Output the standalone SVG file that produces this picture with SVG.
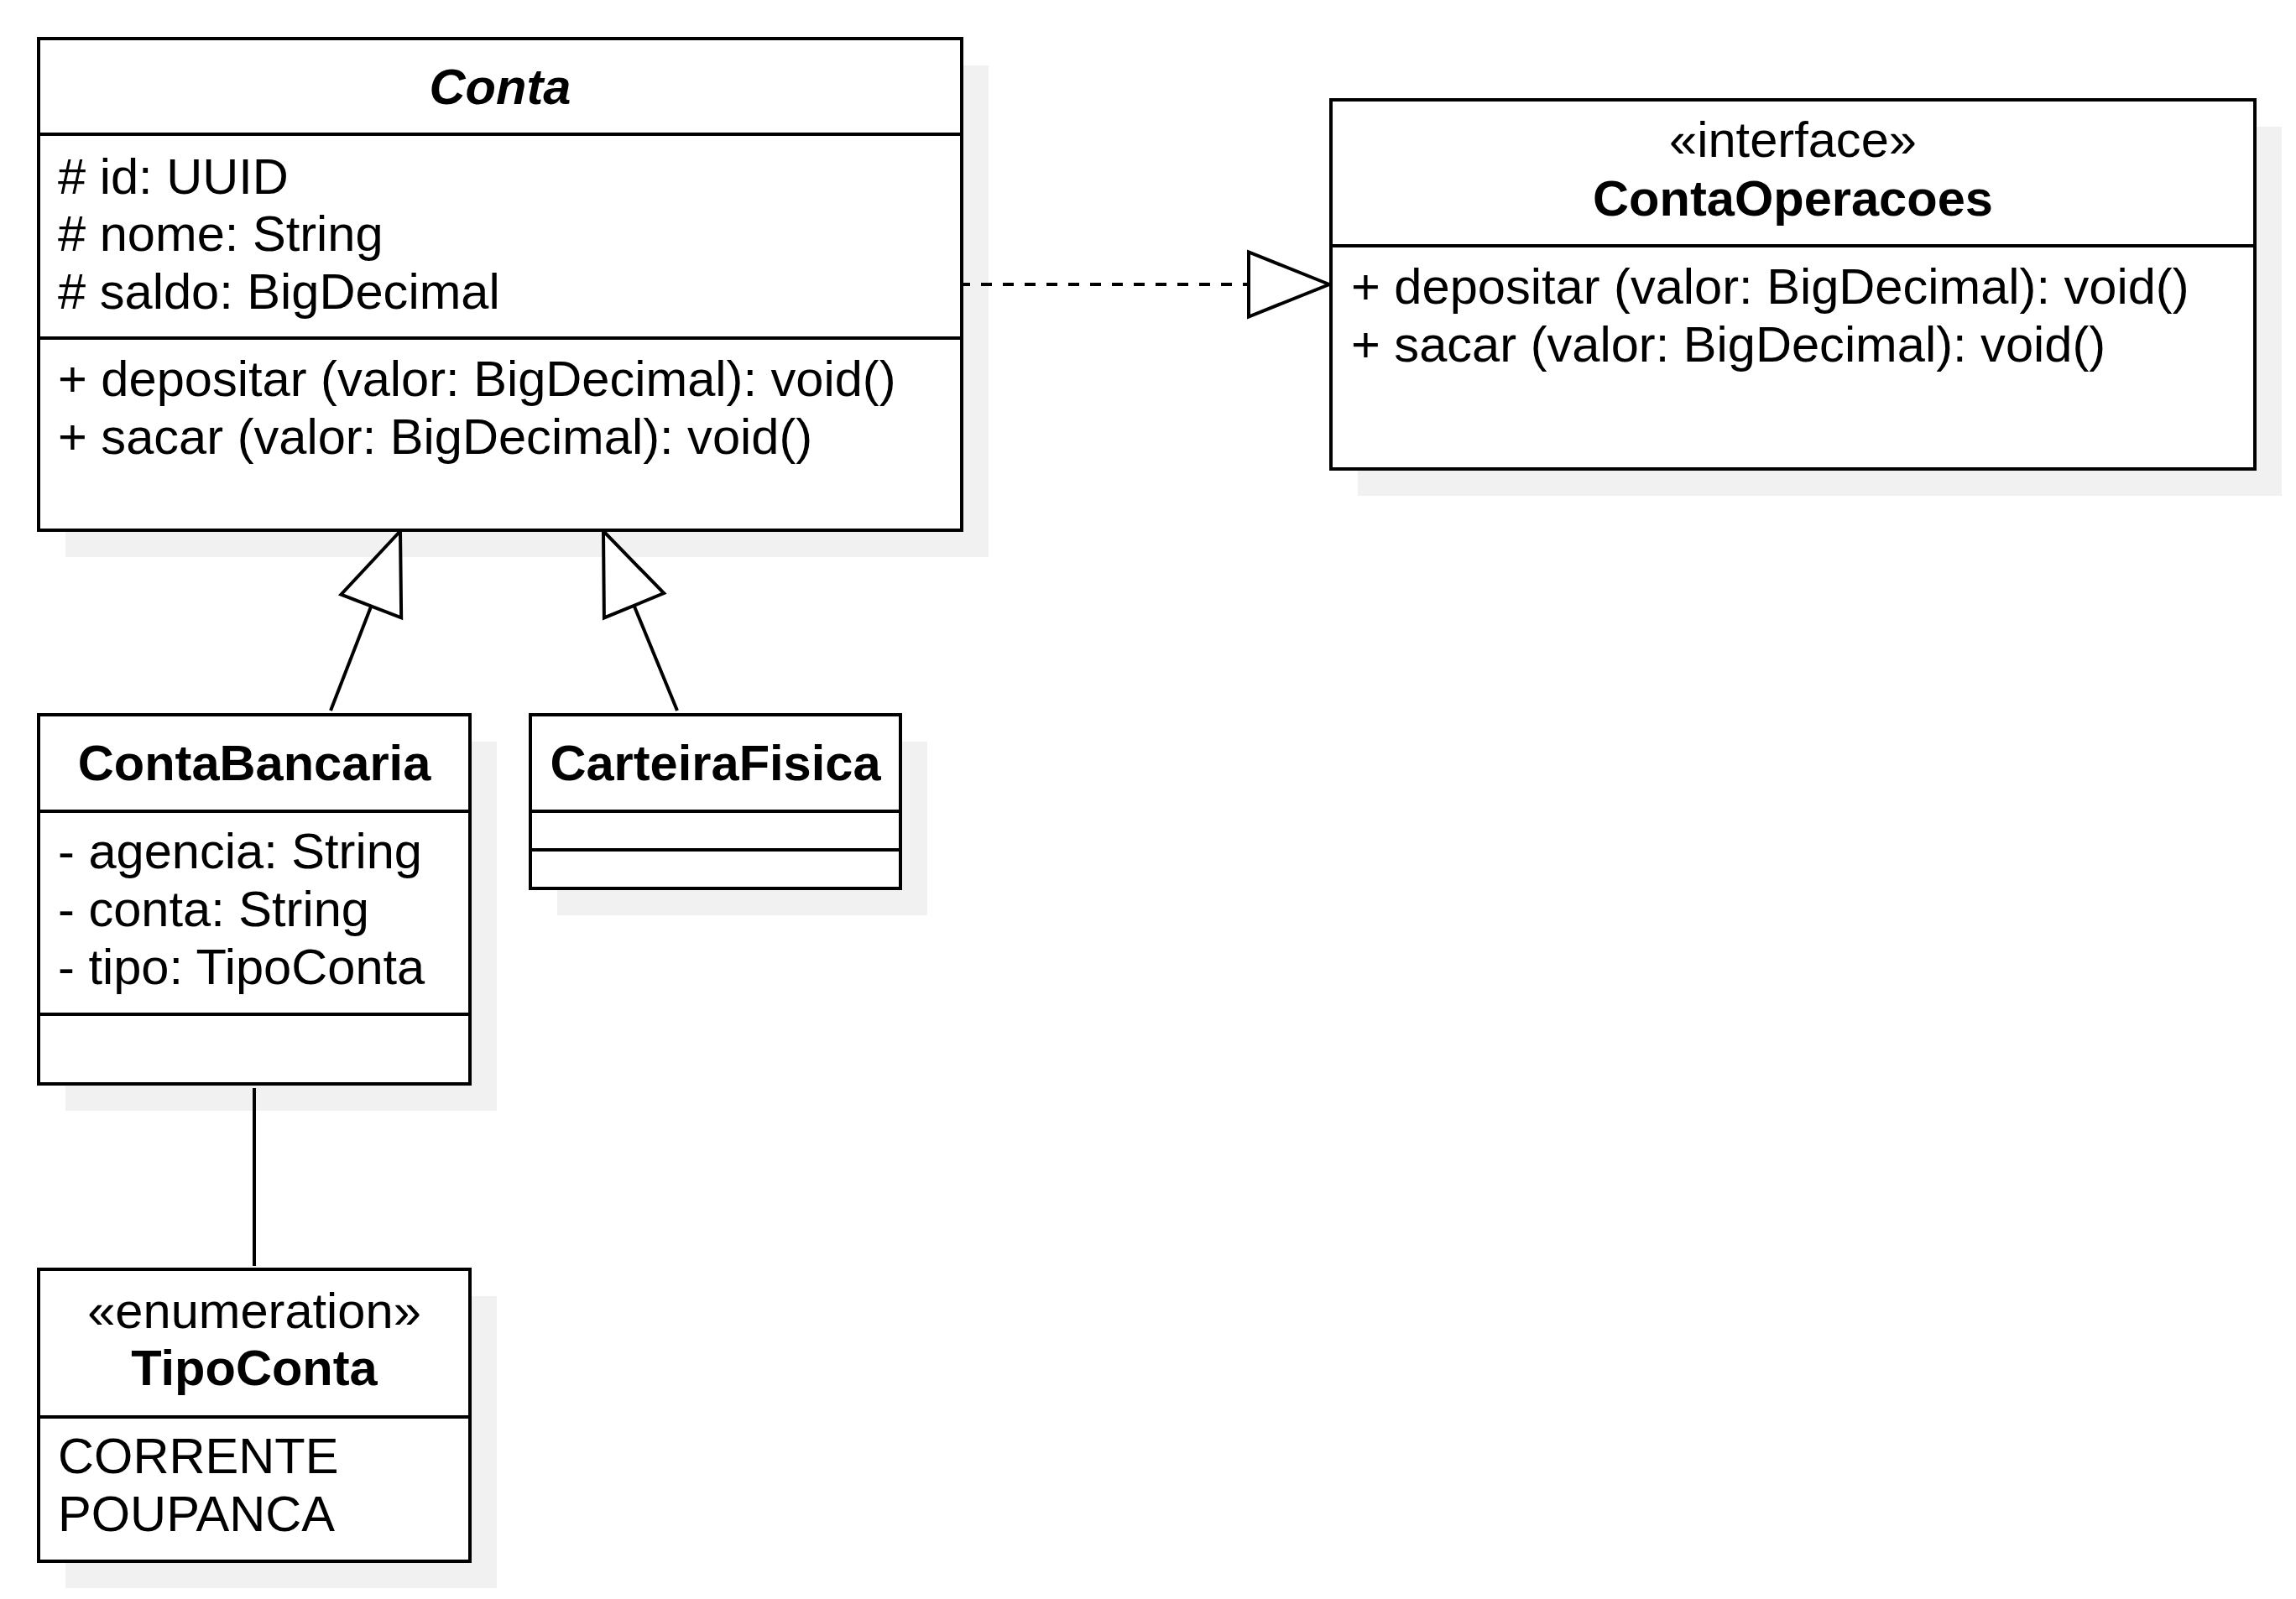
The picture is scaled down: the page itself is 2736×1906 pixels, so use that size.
<svg xmlns="http://www.w3.org/2000/svg" width="2736" height="1906" viewBox="0 0 2736 1906">
<style>
.box{fill:#ffffff;stroke:#000000;stroke-width:4}
.shadow{fill:#f1f1f1;stroke:none}
.sep{stroke:#000000;stroke-width:4;fill:none}
.t{font-family:"Liberation Sans",Arial,Helvetica,sans-serif;font-size:59.6px;fill:#000000}
.b{font-weight:bold}
.bi{font-weight:bold;font-style:italic}
.c{text-anchor:middle}
.edge{stroke:#000000;stroke-width:4;fill:none}
.dash{stroke-dasharray:13 13;stroke-dashoffset:4}
</style>
<defs>
<marker id="tri" markerUnits="userSpaceOnUse" markerWidth="120" markerHeight="100" viewBox="-105 -50 120 100" refX="0" refY="0" orient="auto" overflow="visible">
<path d="M0,0 L-96,-38.5 L-96,38.5 Z" fill="#ffffff" stroke="#000000" stroke-width="4" stroke-linejoin="miter"/>
</marker>
</defs>
<rect width="2736" height="1906" fill="#ffffff"/>

<g id="shadows">
<rect class="shadow" x="78" y="78" width="1100" height="586"/>
<rect class="shadow" x="1618" y="151" width="1101" height="440"/>
<rect class="shadow" x="78" y="884" width="514" height="440"/>
<rect class="shadow" x="664" y="884" width="441" height="207"/>
<rect class="shadow" x="78" y="1545" width="514" height="348"/>
</g>

<g id="connectors">
<path class="edge dash" d="M1147,339 L1584,339" marker-end="url(#tri)"/>
<path class="edge" d="M394,847 L477,633" marker-end="url(#tri)"/>
<path class="edge" d="M807,847 L719,633" marker-end="url(#tri)"/>
<path class="edge" d="M303,1297 L303,1509"/>
</g>

<g id="Conta">
<rect class="box" x="46" y="46" width="1100" height="586"/>
<line class="sep" x1="46" y1="160" x2="1146" y2="160"/>
<line class="sep" x1="46" y1="403" x2="1146" y2="403"/>
<text class="t bi c" x="596" y="124">Conta</text>
<text class="t" x="69" y="230.5"># id: UUID</text>
<text class="t" x="69" y="299"># nome: String</text>
<text class="t" x="69" y="368"># saldo: BigDecimal</text>
<text class="t" x="69" y="472">+ depositar (valor: BigDecimal): void()</text>
<text class="t" x="69" y="541">+ sacar (valor: BigDecimal): void()</text>
</g>

<g id="ContaOperacoes">
<rect class="box" x="1586" y="119" width="1101" height="440"/>
<line class="sep" x1="1586" y1="293" x2="2687" y2="293"/>
<text class="t c" x="2136.5" y="187">«interface»</text>
<text class="t b c" x="2136.5" y="257">ContaOperacoes</text>
<text class="t" x="1610" y="362">+ depositar (valor: BigDecimal): void()</text>
<text class="t" x="1610" y="431">+ sacar (valor: BigDecimal): void()</text>
</g>

<g id="ContaBancaria">
<rect class="box" x="46" y="852" width="514" height="440"/>
<line class="sep" x1="46" y1="967" x2="560" y2="967"/>
<line class="sep" x1="46" y1="1209" x2="560" y2="1209"/>
<text class="t b c" x="303" y="930">ContaBancaria</text>
<text class="t" x="69" y="1035">- agencia: String</text>
<text class="t" x="69" y="1104">- conta: String</text>
<text class="t" x="69" y="1173">- tipo: TipoConta</text>
</g>

<g id="CarteiraFisica">
<rect class="box" x="632" y="852" width="441" height="207"/>
<line class="sep" x1="632" y1="967" x2="1073" y2="967"/>
<line class="sep" x1="632" y1="1013" x2="1073" y2="1013"/>
<text class="t b c" x="852.5" y="930">CarteiraFisica</text>
</g>

<g id="TipoConta">
<rect class="box" x="46" y="1513" width="514" height="348"/>
<line class="sep" x1="46" y1="1689" x2="560" y2="1689"/>
<text class="t c" x="303" y="1583">«enumeration»</text>
<text class="t b c" x="303" y="1651">TipoConta</text>
<text class="t" x="69" y="1756">CORRENTE</text>
<text class="t" x="69" y="1825">POUPANCA</text>
</g>
</svg>
